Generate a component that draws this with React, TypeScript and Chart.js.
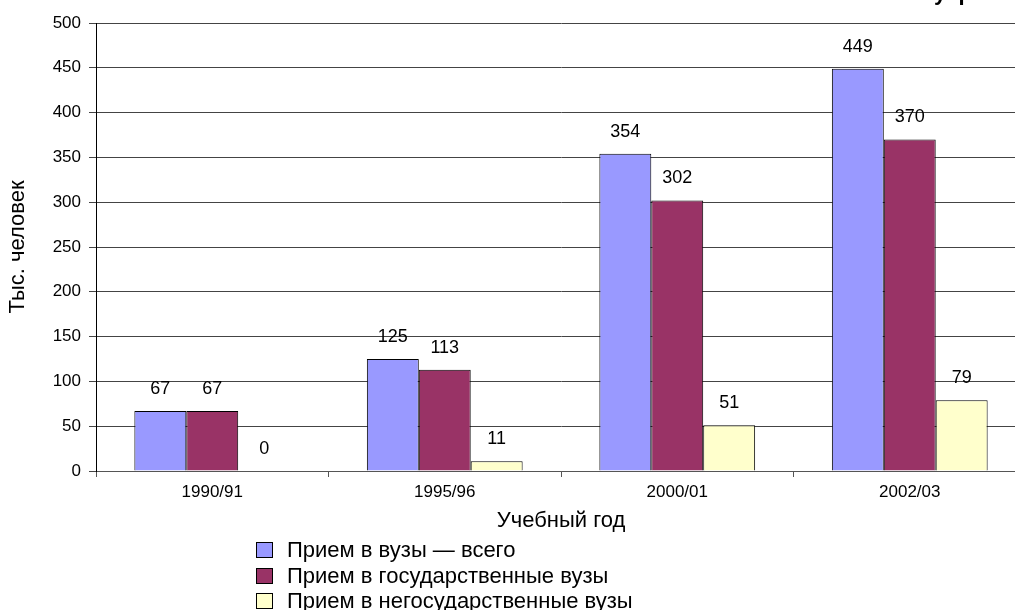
import React, { useEffect, useRef } from "react";
import { Chart, registerables } from "chart.js";

Chart.register(...registerables);

const categories = ["1990/91", "1995/96", "2000/01", "2002/03"];
const totalAdmission = [67, 125, 354, 449];
const stateAdmission = [67, 113, 302, 370];
const privateAdmission = [0, 11, 51, 79];
const seriesNames = [
  "Прием в вузы — всего",
  "Прием в государственные вузы",
  "Прием в негосударственные вузы",
];
const seriesColors = ["#9999FF", "#993366", "#FFFFCC"];
const yTitle = "Тыс. человек";
const xTitle = "Учебный год";

const FONT = "'Liberation Sans', Arial, sans-serif";

const valueLabels = {
  id: "valueLabels",
  afterDatasetsDraw(chart: any) {
    const ctx = chart.ctx;
    ctx.save();
    ctx.font = `18px ${FONT}`;
    ctx.fillStyle = "#000";
    ctx.textAlign = "center";
    ctx.textBaseline = "middle";
    chart.data.datasets.forEach((ds: any, i: number) => {
      const meta = chart.getDatasetMeta(i);
      meta.data.forEach((el: any, j: number) => {
        const v = ds.data[j];
        ctx.fillText(String(v), el.x, el.y - 22);
      });
    });
    ctx.restore();
  },
};

export default function App() {
  const ref = useRef<HTMLCanvasElement>(null);
  useEffect(() => {
    if (!ref.current) return;
    const chart = new Chart(ref.current, {
      type: "bar",
      data: {
        labels: categories,
        datasets: [totalAdmission, stateAdmission, privateAdmission].map((d, i) => ({
          label: seriesNames[i],
          data: d,
          backgroundColor: seriesColors[i],
          borderColor: "#000",
          borderWidth: 1,
          categoryPercentage: 0.67,
          barPercentage: 1,
        })),
      },
      options: {
        animation: false,
        responsive: false,
        devicePixelRatio: 1,
        layout: { padding: { top: 23, right: 4, left: 0, bottom: 0 } },
        plugins: { legend: { display: false }, tooltip: { enabled: false } },
        scales: {
          x: {
            grid: { drawOnChartArea: false, drawTicks: true, tickLength: 6, color: "#555" },
            border: { color: "#555", width: 1 },
            ticks: { color: "#000", font: { family: FONT, size: 17 }, padding: 5 },
            title: {
              display: true,
              text: xTitle,
              color: "#000",
              font: { family: FONT, size: 22 },
              padding: { top: 0, bottom: 7 },
            },
            afterFit: (s: any) => {
              s.height = 70;
            },
          },
          y: {
            min: 0,
            max: 500,
            ticks: { stepSize: 50, color: "#000", font: { family: FONT, size: 17 }, padding: 8 },
            grid: { color: "#444", tickLength: 7, lineWidth: 1 },
            border: { color: "#000", width: 1 },
            title: {
              display: true,
              text: yTitle,
              color: "#000",
              font: { family: FONT, size: 22 },
              padding: { top: 5, bottom: 0 },
            },
            afterFit: (s: any) => {
              s.width = 96;
            },
          },
        },
      },
      plugins: [valueLabels],
    });
    return () => chart.destroy();
  }, []);

  return (
    <div
      style={{
        position: "fixed",
        left: 0,
        top: 0,
        width: 1015,
        height: 610,
        overflow: "hidden",
        background: "#fff",
        fontFamily: FONT,
      }}
    >
      <canvas
        ref={ref}
        width={1030}
        height={541}
        style={{ position: "absolute", left: 0, top: 0, width: 1030, height: 541 }}
      />
      <div
        style={{
          position: "absolute",
          top: -18,
          left: 934,
          fontWeight: "bold",
          fontSize: 22,
          lineHeight: "22px",
          whiteSpace: "pre",
        }}
      >
        {"у  р"}
      </div>
      {seriesNames.map((name, i) => (
        <div
          key={name}
          style={{
            position: "absolute",
            left: 256,
            top: 537 + i * 25.5,
            height: 26,
            display: "flex",
            alignItems: "center",
            whiteSpace: "nowrap",
            fontSize: 22,
            lineHeight: "26px",
            color: "#000",
          }}
        >
          <span
            style={{
              display: "inline-block",
              width: 15,
              height: 14,
              background: seriesColors[i],
              border: "1px solid #000",
              marginRight: 14,
            }}
          />
          <span>{name}</span>
        </div>
      ))}
    </div>
  );
}
